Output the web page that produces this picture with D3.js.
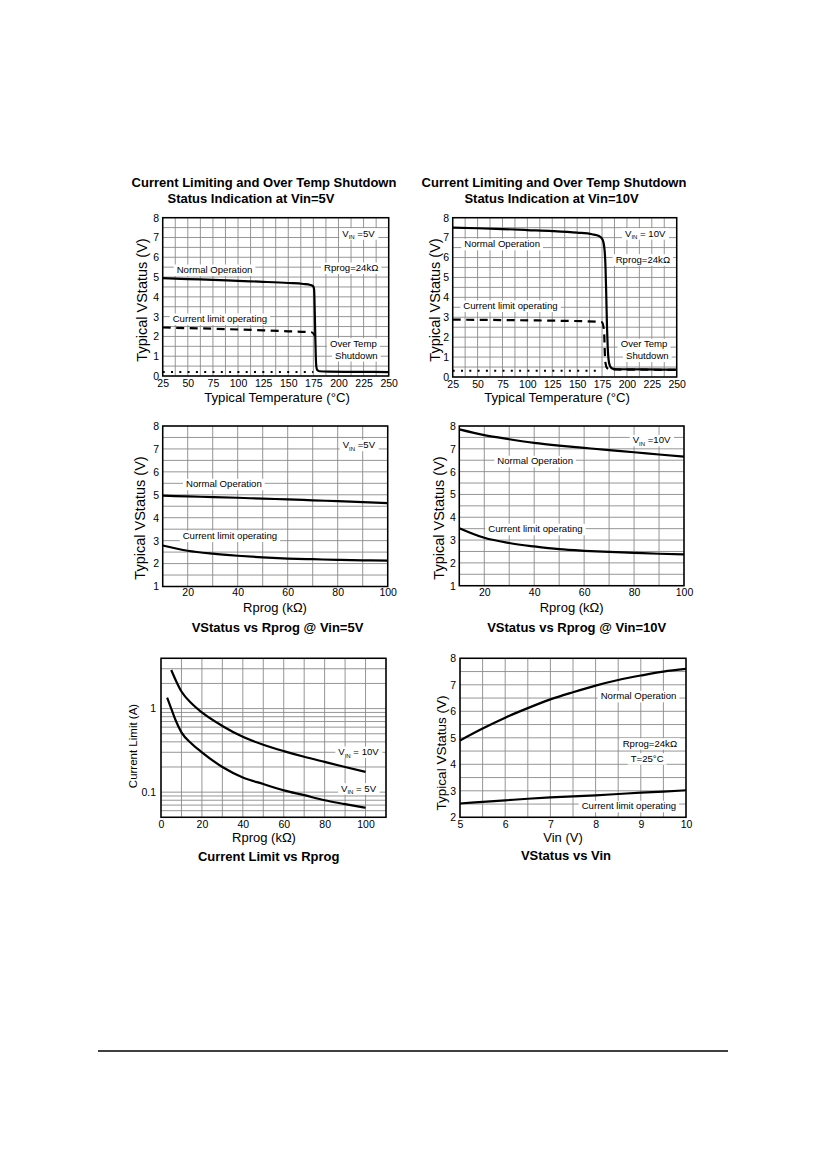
<!DOCTYPE html>
<html>
<head>
<meta charset="utf-8">
<script src="https://cdn.jsdelivr.net/npm/d3@7/dist/d3.min.js"></script>
<style>
  html, body { margin: 0; padding: 0; background: #fff; }
  svg { display: block; font-family: "Liberation Sans", Arial, Helvetica, sans-serif; }
</style>
</head>
<body>
<svg id="page" width="826" height="1169"></svg>
<script>
// ---------------- DATA ----------------
// Chart 1: Vin = 5V, status vs temperature
const temp5Normal = [[25,4.95],[50,4.9],[75,4.86],[100,4.81],[125,4.76],[150,4.7],[165,4.65],[172,4.6],[174.5,4.55],[175.7,4.4],[176.4,3.2],[176.9,2.0],[177.4,1.0],[177.9,0.5],[178.8,0.3],[181,0.24],[190,0.22],[220,0.21],[250,0.2]];
const temp5Limit = [[25,2.45],[50,2.42],[75,2.39],[100,2.35],[125,2.31],[150,2.26],[173,2.21],[175.5,2.12],[176.7,2.0]];
const temp5Shutdown = [[25,0.2],[175,0.2]];
// Chart 2: Vin = 10V, status vs temperature
const temp10Normal = [[25,7.5],[50,7.47],[75,7.43],[100,7.38],[125,7.33],[150,7.25],[165,7.17],[172,7.08],[175.5,6.9],[177.5,6.4],[178.5,5.5],[179.3,4.0],[180,2.5],[180.7,1.5],[181.5,0.9],[183,0.55],[185.5,0.42],[190,0.39],[220,0.38],[250,0.37]];
const temp10Limit = [[25,2.88],[75,2.86],[125,2.83],[170,2.78],[175,2.75],[176.5,2.5],[177.3,2.0],[177.8,1.2],[178.5,0.7],[180,0.45],[183,0.38],[250,0.36]];
const temp10Shutdown = [[25,0.32],[175,0.32]];
// Charts 3 & 4: status vs Rprog
const rprog = [10,20,30,40,50,60,70,80,90,100];
const vs5Normal  = [4.96,4.93,4.9,4.87,4.83,4.8,4.76,4.72,4.68,4.64];
const vs5Limit   = [2.79,2.56,2.43,2.34,2.27,2.22,2.19,2.16,2.14,2.13];
const vs10Normal = [7.85,7.6,7.42,7.26,7.14,7.04,6.94,6.85,6.75,6.66];
const vs10Limit  = [3.52,3.1,2.87,2.72,2.6,2.53,2.48,2.44,2.4,2.37];
// Chart 5: current limit vs Rprog (log)
const ilimR10 = [5,10,15,20,30,40,50,60,70,80,90,100];
const ilim10  = [2.9,1.6,1.15,0.9,0.62,0.46,0.37,0.31,0.265,0.23,0.2,0.175];
const ilimR5  = [3,5,7,10,15,20,30,40,50,60,70,80,90,100];
const ilim5   = [1.35,1.0,0.74,0.52,0.38,0.3,0.2,0.15,0.125,0.105,0.092,0.08,0.072,0.065];
// Chart 6: status vs Vin
const vin       = [5,5.5,6,6.5,7,7.5,8,8.5,9,9.5,10];
const vinNormal = [4.9,5.35,5.76,6.12,6.45,6.72,6.97,7.18,7.35,7.5,7.6];
const vinLimit  = [2.52,2.58,2.64,2.7,2.75,2.79,2.83,2.88,2.93,2.97,3.02];
// Tick labels
const tempTicks = [25,50,75,100,125,150,175,200,225,250];
const v08Ticks = [0,1,2,3,4,5,6,7,8];
const v18Ticks = [1,2,3,4,5,6,7,8];
const v28Ticks = [2,3,4,5,6,7,8];
const rprogTicks = [20,40,60,80,100];
const ilimXTicks = [0,20,40,60,80,100];
const ilimYTicks = [0.1,1];
const vinTicks = [5,6,7,8,9,10];

// ---------------- DRAWING ----------------
const svg = d3.select("#page");
const zip = (xs, ys) => xs.map((x, i) => [x, ys[i]]);
const range = (a, b, s) => d3.range(a, b + s / 2, s);

function drawChart(c) {
  const g = svg.append("g");
  const x = d3.scaleLinear().domain(c.xDomain).range([c.left, c.right]);
  const y = (c.log ? d3.scaleLog() : d3.scaleLinear()).domain(c.yDomain).range([c.bottom, c.top]);

  // grid
  g.append("g").selectAll("line").data(c.xGrid).join("line")
    .attr("x1", d => x(d)).attr("x2", d => x(d))
    .attr("y1", c.top).attr("y2", c.bottom)
    .attr("stroke", "#8a8a8a").attr("stroke-width", 0.9);
  g.append("g").selectAll("line").data(c.yGrid).join("line")
    .attr("y1", d => y(d)).attr("y2", d => y(d))
    .attr("x1", c.left).attr("x2", c.right)
    .attr("stroke", "#8a8a8a").attr("stroke-width", 0.9);

  // axes (labels only)
  const ax = g.append("g").attr("transform", `translate(0,${c.bottom})`)
    .call(d3.axisBottom(x).tickValues(c.xTicks).tickSize(0).tickPadding(c.xPad || 4).tickFormat(d3.format("")));
  ax.select(".domain").remove();
  ax.selectAll("text").attr("font-size", 10.5).attr("fill", "#000").attr("font-family", "Liberation Sans, Arial, sans-serif");
  const ay = g.append("g").attr("transform", `translate(${c.left},0)`)
    .call(d3.axisLeft(y).tickValues(c.yTicks).tickSize(0).tickPadding(c.yPad || 4).tickFormat(c.yFormat || d3.format("")));
  ay.select(".domain").remove();
  ay.selectAll("text").attr("font-size", 10.5).attr("fill", "#000").attr("font-family", "Liberation Sans, Arial, sans-serif");

  // annotation labels with white background
  (c.notes || []).forEach(n => {
    const t = g.append("text").attr("x", n.x).attr("y", n.y)
      .attr("font-size", 9.6).attr("fill", "#000");
    if (n.vin) {
      t.append("tspan").text("V");
      t.append("tspan").text("IN").attr("font-size", 6).attr("dy", 2.5);
      t.append("tspan").text(n.vin).attr("dy", -2.5);
    } else {
      t.text(n.text);
    }
    const b = t.node().getBBox();
    g.insert("rect", () => t.node())
      .attr("x", b.x - 3).attr("y", n.y - 8.5).attr("width", b.width + 6).attr("height", 11.5)
      .attr("fill", "#fff");
  });

  // frame
  g.append("rect").attr("x", c.left).attr("y", c.top)
    .attr("width", c.right - c.left).attr("height", c.bottom - c.top)
    .attr("fill", "none").attr("stroke", "#000").attr("stroke-width", 1.5);

  // series
  const line = d3.line().x(d => x(d[0])).y(d => y(d[1])).curve(d3.curveMonotoneX);
  c.series.forEach(s => {
    g.append("path").attr("d", line(s.data))
      .attr("fill", "none").attr("stroke", "#000")
      .attr("stroke-width", s.width || 2.2)
      .attr("stroke-dasharray", s.dash || null)
      .attr("stroke-linejoin", "round");
  });

  // axis titles
  g.append("text").attr("x", c.xLabel.x).attr("y", c.xLabel.y)
    .attr("text-anchor", "middle").attr("font-size", c.xLabel.size).text(c.xLabel.text);
  g.append("text").attr("transform", `translate(${c.yLabel.x},${c.yLabel.y}) rotate(-90)`)
    .attr("text-anchor", "middle").attr("dy", "0.35em")
    .attr("font-size", c.yLabel.size).text(c.yLabel.text);

  // titles
  (c.titles || []).forEach(tt => {
    g.append("text").attr("x", tt.x).attr("y", tt.y).attr("text-anchor", "middle")
      .attr("font-size", 13).attr("font-weight", "bold").text(tt.text);
  });
}

const solid = d => ({ data: d });
const dashed = d => ({ data: d, dash: "8,5.5", width: 2.2 });
const dotted = d => ({ data: d, dash: "2,6.3", width: 2, });

// Chart 1
drawChart({
  left: 162.7, right: 388.7, top: 217.7, bottom: 376,
  xDomain: [25, 250], yDomain: [0, 8],
  xGrid: range(25, 250, 12.5), yGrid: range(0, 8, 0.5),
  xTicks: tempTicks, yTicks: v08Ticks, xPad: 4, yPad: 3.5,
  series: [solid(temp5Normal), dashed(temp5Limit), dotted(temp5Shutdown)],
  notes: [
    { vin: " =5V", x: 342.3, y: 236.7 },
    { text: "Rprog=24k\u03A9", x: 324, y: 271 },
    { text: "Normal Operation", x: 176.7, y: 273 },
    { text: "Current limit operating", x: 172.7, y: 322 },
    { text: "Over Temp", x: 330, y: 346.7 },
    { text: "Shutdown", x: 335, y: 358.5 }
  ],
  xLabel: { text: "Typical Temperature (\u00B0C)", x: 277, y: 402, size: 13.2 },
  yLabel: { text: "Typical VStatus (V)", x: 141.7, y: 300, size: 14.5 },
  titles: [
    { text: "Current Limiting and Over Temp Shutdown", x: 264, y: 186.7 },
    { text: "Status Indication at Vin=5V", x: 251, y: 203.3 }
  ]
});

// Chart 2
drawChart({
  left: 452.7, right: 676.7, top: 217.7, bottom: 377,
  xDomain: [25, 250], yDomain: [0, 8],
  xGrid: range(25, 250, 12.5), yGrid: range(0, 8, 0.5),
  xTicks: tempTicks, yTicks: v08Ticks, xPad: 3.5, yPad: 3.5,
  series: [solid(temp10Normal), dashed(temp10Limit), dotted(temp10Shutdown)],
  notes: [
    { vin: " = 10V", x: 625, y: 236.7 },
    { text: "Normal Operation", x: 464.3, y: 247.3 },
    { text: "Rprog=24k\u03A9", x: 615.7, y: 262.7 },
    { text: "Current limit operating", x: 463.3, y: 309 },
    { text: "Over Temp", x: 620.7, y: 347.3 },
    { text: "Shutdown", x: 626, y: 359 }
  ],
  xLabel: { text: "Typical Temperature (\u00B0C)", x: 557, y: 402, size: 13.2 },
  yLabel: { text: "Typical VStatus (V)", x: 435, y: 300, size: 14.5 },
  titles: [
    { text: "Current Limiting and Over Temp Shutdown", x: 554, y: 186.7 },
    { text: "Status Indication at Vin=10V", x: 551.5, y: 203.3 }
  ]
});

// Chart 3
drawChart({
  left: 162.7, right: 387.7, top: 426, bottom: 586.5,
  xDomain: [10, 100], yDomain: [1, 8],
  xGrid: range(10, 100, 10), yGrid: range(1, 8, 0.5),
  xTicks: rprogTicks, yTicks: v18Ticks, xPad: 2.5, yPad: 3.5,
  series: [solid(zip(rprog, vs5Normal)), solid(zip(rprog, vs5Limit))],
  notes: [
    { vin: " =5V", x: 342.7, y: 448.3 },
    { text: "Normal Operation", x: 186, y: 487.3 },
    { text: "Current limit operating", x: 182.7, y: 539 }
  ],
  xLabel: { text: "Rprog (k\u03A9)", x: 275, y: 611.7, size: 13 },
  yLabel: { text: "Typical VStatus (V)", x: 140, y: 518, size: 14.5 },
  titles: [{ text: "VStatus vs Rprog @ Vin=5V", x: 277.5, y: 631.7 }]
});

// Chart 4
drawChart({
  left: 459.3, right: 684, top: 426, bottom: 585.7,
  xDomain: [10, 100], yDomain: [1, 8],
  xGrid: range(10, 100, 10), yGrid: range(1, 8, 0.5),
  xTicks: rprogTicks, yTicks: v18Ticks, xPad: 2.5, yPad: 3.5,
  series: [solid(zip(rprog, vs10Normal)), solid(zip(rprog, vs10Limit))],
  notes: [
    { vin: " =10V", x: 632.7, y: 443.3 },
    { text: "Normal Operation", x: 497.3, y: 464.3 },
    { text: "Current limit operating", x: 488.3, y: 532.3 }
  ],
  xLabel: { text: "Rprog (k\u03A9)", x: 571.7, y: 611.7, size: 13 },
  yLabel: { text: "Typical VStatus (V)", x: 439.3, y: 518, size: 14.5 },
  titles: [{ text: "VStatus vs Rprog @ Vin=10V", x: 576.7, y: 631.7 }]
});

// Chart 5
drawChart({
  left: 161, right: 386, top: 658.3, bottom: 817.3, log: true,
  xDomain: [0, 110], yDomain: [0.05, 4],
  xGrid: range(0, 110, 10),
  yGrid: [0.05,0.06,0.07,0.08,0.09,0.1,0.2,0.3,0.4,0.5,0.6,0.7,0.8,0.9,1,2,3,4],
  xTicks: ilimXTicks, yTicks: ilimYTicks, xPad: 3.5, yPad: 5, yFormat: d => String(d),
  series: [solid(zip(ilimR10, ilim10)), solid(zip(ilimR5, ilim5))],
  notes: [
    { vin: " = 10V", x: 338.3, y: 755 },
    { vin: " = 5V", x: 341, y: 791.7 }
  ],
  xLabel: { text: "Rprog (k\u03A9)", x: 264, y: 841.7, size: 13 },
  yLabel: { text: "Current Limit (A)", x: 132.7, y: 746, size: 11.5 },
  titles: [{ text: "Current Limit vs Rprog", x: 268.7, y: 860.5 }]
});

// Chart 6
drawChart({
  left: 460, right: 686, top: 658.3, bottom: 817.3,
  xDomain: [5, 10], yDomain: [2, 8],
  xGrid: range(5, 10, 0.5), yGrid: range(2, 8, 0.5),
  xTicks: vinTicks, yTicks: v28Ticks, xPad: 3.5, yPad: 4,
  series: [solid(zip(vin, vinNormal)), solid(zip(vin, vinLimit))],
  notes: [
    { text: "Normal Operation", x: 600.7, y: 699.3 },
    { text: "Rprog=24k\u03A9", x: 622.7, y: 746.7 },
    { text: "T=25\u00B0C", x: 630.7, y: 761.7 },
    { text: "Current limit operating", x: 581.7, y: 809.3 }
  ],
  xLabel: { text: "Vin (V)", x: 563, y: 842.3, size: 13 },
  yLabel: { text: "Typical VStatus (V)", x: 441.7, y: 753, size: 13.5 },
  titles: [{ text: "VStatus vs Vin", x: 566, y: 860 }]
});

// footer rule
svg.append("line").attr("x1", 98).attr("x2", 728).attr("y1", 1051).attr("y2", 1051)
  .attr("stroke", "#000").attr("stroke-width", 1.6);
</script>
</body>
</html>
